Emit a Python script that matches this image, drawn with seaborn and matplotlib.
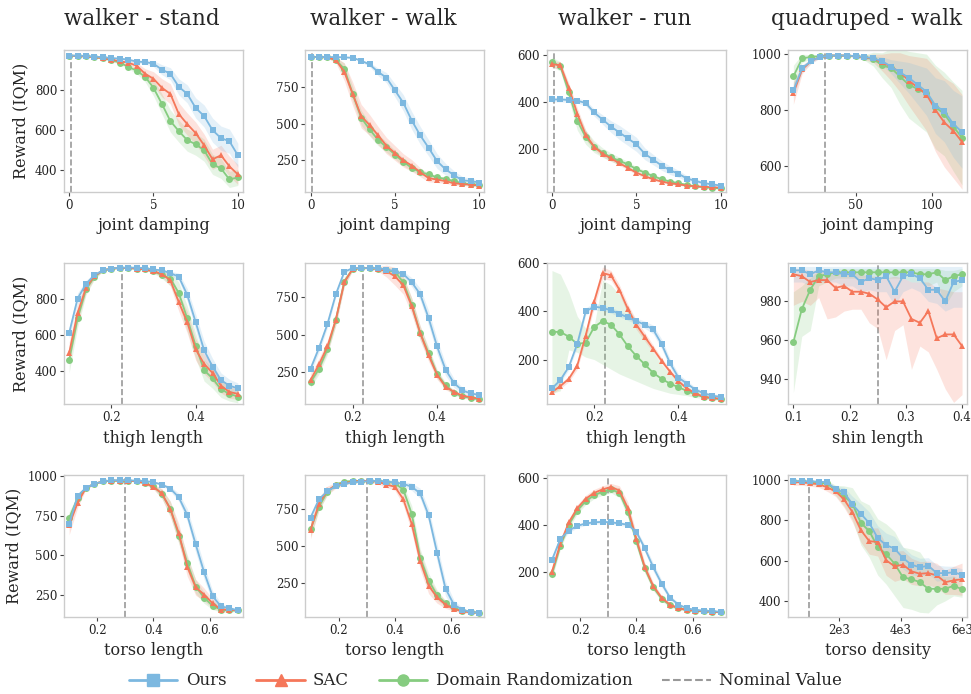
import numpy as np
import matplotlib
matplotlib.use("Agg")
import matplotlib.pyplot as plt
import matplotlib.ticker as mtick
from matplotlib.lines import Line2D
import seaborn as sns

##########
# X grids #
##########
damp_x = [0, 0.5, 1, 1.5, 2, 2.5, 3, 3.5, 4, 4.5, 5, 5.5, 6, 6.5, 7, 7.5, 8, 8.5, 9, 9.5, 10]
quad_damp_x = [9.0, 14.8, 20.7, 26.5, 32.4, 38.2, 44.1, 49.9, 55.7, 61.6, 67.4, 73.3, 79.1, 85.0,
               90.8, 96.6, 102.5, 108.3, 114.2, 120.0]
thigh_x = [0.10, 0.12, 0.14, 0.16, 0.18, 0.20, 0.22, 0.24, 0.26, 0.28, 0.30, 0.32, 0.34, 0.36,
           0.38, 0.40, 0.42, 0.44, 0.46, 0.48, 0.50]
shin_x = [0.100, 0.115, 0.130, 0.145, 0.160, 0.175, 0.190, 0.205, 0.220, 0.235, 0.250, 0.265,
          0.280, 0.295, 0.310, 0.325, 0.340, 0.355, 0.370, 0.385, 0.400]
torso_x = [0.10, 0.13, 0.16, 0.19, 0.22, 0.25, 0.28, 0.31, 0.34, 0.37, 0.40, 0.43, 0.46, 0.49,
           0.52, 0.55, 0.58, 0.61, 0.64, 0.67, 0.70]
density_x = [500, 775, 1050, 1325, 1600, 1875, 2150, 2425, 2700, 2975, 3250, 3525, 3800, 4075,
             4350, 4625, 4900, 5175, 5450, 5725, 6000]

# nominal values of each perturbed parameter
nominal_damp = 0.1
nominal_quad_damp = 30
nominal_thigh = 0.225
nominal_shin = 0.25
nominal_torso = 0.3
nominal_density = 1000

#########################
# Row 1: joint damping  #
#########################
stand_damp_ours = [970, 970, 968, 965, 962, 958, 955, 950, 940, 938, 930, 900, 880, 815, 780, 710, 670, 600, 560, 545, 475]
stand_damp_ours_sd = [3, 3, 3, 3, 3, 4, 5, 6, 8, 10, 15, 25, 30, 40, 45, 50, 55, 60, 60, 60, 60]
stand_damp_sac = [970, 968, 966, 962, 958, 950, 942, 935, 920, 880, 855, 810, 780, 680, 630, 585, 525, 455, 475, 420, 380]
stand_damp_sac_sd = [3, 3, 3, 4, 5, 6, 8, 10, 15, 25, 35, 45, 50, 55, 55, 55, 55, 50, 50, 50, 50]
stand_damp_dr = [970, 968, 966, 962, 958, 948, 935, 915, 895, 865, 810, 730, 645, 595, 550, 530, 500, 430, 410, 355, 365]
stand_damp_dr_sd = [3, 3, 3, 4, 5, 6, 8, 10, 15, 25, 40, 50, 55, 55, 55, 55, 55, 50, 50, 40, 40]

walk_damp_ours = [950, 950, 950, 950, 948, 945, 925, 900, 850, 810, 725, 640, 520, 420, 335, 245, 190, 150, 115, 110, 100]
walk_damp_ours_sd = [3, 3, 3, 3, 3, 4, 8, 15, 25, 35, 45, 55, 60, 60, 55, 50, 40, 30, 25, 20, 15]
walk_damp_sac = [950, 950, 948, 930, 850, 700, 550, 490, 420, 350, 300, 250, 215, 170, 130, 120, 110, 95, 90, 85, 80]
walk_damp_sac_sd = [3, 3, 5, 20, 60, 80, 80, 70, 60, 55, 50, 45, 40, 30, 25, 20, 15, 12, 10, 10, 10]
walk_damp_dr = [950, 950, 948, 930, 870, 700, 540, 460, 390, 340, 290, 240, 200, 170, 155, 135, 125, 110, 95, 90, 85]
walk_damp_dr_sd = [3, 3, 5, 15, 40, 50, 50, 45, 40, 35, 30, 25, 20, 18, 15, 12, 10, 10, 8, 8, 8]

run_damp_ours = [410, 410, 408, 405, 395, 355, 325, 295, 270, 245, 220, 180, 155, 130, 110, 95, 75, 65, 55, 50, 45]
run_damp_ours_sd = [10, 10, 10, 10, 12, 15, 20, 25, 30, 30, 30, 25, 22, 20, 18, 15, 12, 10, 8, 8, 6]
run_damp_sac = [560, 555, 460, 350, 260, 210, 180, 160, 140, 120, 100, 85, 72, 62, 55, 50, 45, 42, 40, 38, 36]
run_damp_sac_sd = [15, 15, 20, 25, 20, 15, 12, 10, 10, 8, 8, 7, 6, 5, 5, 4, 4, 4, 3, 3, 3]
run_damp_dr = [570, 550, 440, 320, 250, 210, 185, 165, 150, 135, 115, 100, 85, 72, 62, 55, 48, 42, 38, 35, 33]
run_damp_dr_sd = [20, 20, 30, 40, 30, 25, 20, 18, 15, 12, 10, 10, 8, 7, 6, 5, 5, 4, 4, 3, 3]

quad_damp_ours = [870, 950, 975, 990, 995, 995, 995, 993, 990, 985, 975, 955, 935, 915, 890, 865, 815, 795, 750, 720]
quad_damp_ours_sd = [25, 12, 8, 4, 3, 3, 3, 3, 5, 8, 15, 25, 40, 55, 70, 85, 100, 110, 120, 130]
quad_damp_sac = [860, 945, 975, 990, 995, 995, 995, 993, 988, 985, 970, 955, 935, 905, 880, 855, 800, 755, 725, 685]
quad_damp_sac_sd = [40, 15, 8, 4, 3, 3, 3, 4, 8, 15, 30, 50, 70, 90, 110, 130, 150, 160, 170, 170]
quad_damp_dr = [920, 985, 990, 993, 995, 995, 995, 992, 988, 982, 960, 950, 920, 890, 875, 860, 810, 785, 740, 700]
quad_damp_dr_sd = [40, 15, 8, 4, 3, 3, 3, 5, 10, 25, 45, 70, 100, 120, 130, 140, 150, 150, 160, 170]

######################
# Row 2: limb length #
######################
stand_thigh_ours = [610, 800, 880, 930, 955, 965, 970, 970, 970, 968, 960, 955, 940, 920, 820, 670, 515, 425, 350, 320, 305]
stand_thigh_ours_sd = [30, 30, 20, 10, 5, 3, 3, 3, 3, 3, 5, 8, 10, 20, 35, 45, 50, 45, 40, 35, 30]
stand_thigh_sac = [500, 720, 860, 925, 955, 965, 968, 968, 965, 960, 950, 935, 900, 780, 670, 520, 440, 390, 320, 285, 275]
stand_thigh_sac_sd = [60, 50, 30, 15, 5, 3, 3, 3, 3, 5, 8, 15, 30, 50, 60, 60, 55, 50, 40, 35, 30]
stand_thigh_dr = [460, 690, 850, 920, 955, 965, 968, 968, 965, 960, 950, 930, 910, 830, 690, 540, 405, 360, 300, 275, 260]
stand_thigh_dr_sd = [70, 50, 30, 15, 5, 3, 3, 3, 3, 5, 10, 20, 40, 60, 70, 70, 60, 55, 45, 40, 35]

walk_thigh_ours = [270, 410, 570, 770, 920, 945, 945, 945, 945, 935, 925, 905, 850, 770, 610, 420, 265, 175, 125, 105, 95]
walk_thigh_ours_sd = [30, 30, 25, 20, 15, 5, 3, 3, 3, 5, 10, 20, 30, 40, 50, 50, 40, 30, 20, 15, 12]
walk_thigh_sac = [195, 300, 420, 600, 850, 940, 945, 945, 940, 925, 890, 830, 690, 510, 360, 230, 150, 115, 90, 80, 70]
walk_thigh_sac_sd = [40, 40, 40, 40, 30, 10, 5, 5, 15, 40, 60, 60, 55, 50, 40, 30, 20, 15, 12, 10, 10]
walk_thigh_dr = [180, 270, 400, 600, 855, 940, 945, 945, 940, 930, 920, 850, 700, 510, 375, 235, 160, 110, 85, 75, 65]
walk_thigh_dr_sd = [35, 35, 35, 35, 30, 10, 5, 5, 10, 20, 30, 40, 45, 45, 40, 30, 20, 15, 12, 10, 10]

run_thigh_ours = [80, 115, 170, 265, 400, 420, 415, 405, 390, 375, 360, 345, 325, 265, 185, 125, 100, 75, 60, 50, 45]
run_thigh_ours_sd = [10, 10, 12, 15, 15, 15, 12, 12, 12, 12, 12, 15, 18, 20, 18, 15, 12, 10, 8, 8, 8]
run_thigh_sac = [65, 90, 120, 175, 300, 440, 560, 550, 490, 410, 345, 295, 245, 195, 150, 110, 80, 60, 45, 40, 38]
run_thigh_sac_sd = [8, 10, 12, 15, 20, 25, 25, 20, 20, 20, 20, 18, 15, 12, 10, 8, 7, 6, 5, 5, 5]
run_thigh_dr = [315, 315, 295, 265, 270, 335, 360, 345, 305, 255, 215, 180, 145, 120, 100, 85, 70, 55, 45, 40, 35]
run_thigh_dr_lo = [60, 70, 240, 230, 210, 200, 180, 160, 140, 125, 110, 95, 80, 70, 60, 55, 50, 42, 38, 33, 30]
run_thigh_dr_hi = [570, 555, 480, 380, 330, 340, 530, 510, 470, 420, 360, 290, 230, 180, 140, 110, 85, 70, 55, 45, 40]

quad_shin_ours = [996, 996, 994, 996, 995, 995, 994, 994, 990, 992, 991, 993, 985, 993, 994, 992, 986, 986, 980, 990, 991]
quad_shin_ours_lo = [990, 990, 988, 990, 990, 990, 988, 988, 985, 986, 985, 985, 978, 985, 987, 985, 980, 979, 975, 977, 977]
quad_shin_ours_hi = [998, 998, 998, 998, 998, 998, 998, 998, 998, 998, 998, 998, 998, 998, 998, 998, 998, 998, 998, 998, 998]
quad_shin_sac = [994, 993, 990, 991, 991, 987, 988, 985, 985, 984, 981, 977, 980, 980, 971, 969, 975, 961, 963, 963, 957]
quad_shin_sac_lo = [978, 980, 978, 982, 971, 972, 975, 976, 976, 969, 966, 950, 965, 968, 945, 957, 954, 945, 935, 928, 932]
quad_shin_sac_hi = [997, 997, 996, 996, 996, 995, 995, 995, 994, 993, 993, 992, 993, 992, 990, 990, 990, 987, 986, 985, 985]
quad_shin_dr = [959, 976, 986, 993, 994, 995, 995, 995, 995, 995, 995, 995, 995, 995, 995, 994, 994, 995, 991, 993, 994]
quad_shin_dr_lo = [933, 962, 965, 988, 990, 992, 992, 992, 992, 992, 992, 992, 992, 992, 990, 990, 988, 990, 978, 985, 988]
quad_shin_dr_hi = [985, 988, 992, 996, 997, 997, 997, 997, 997, 997, 997, 997, 997, 997, 997, 997, 997, 997, 996, 996, 997]

#########################
# Row 3: torso changes  #
#########################
stand_torso_ours = [695, 875, 925, 950, 965, 972, 972, 972, 970, 968, 960, 945, 920, 865, 755, 570, 395, 245, 180, 170, 155]
stand_torso_ours_sd = [15, 10, 5, 3, 3, 3, 3, 3, 3, 3, 5, 8, 15, 25, 40, 50, 45, 35, 20, 10, 8]
stand_torso_sac = [690, 830, 925, 950, 965, 970, 970, 970, 965, 955, 930, 890, 790, 640, 430, 300, 255, 200, 160, 160, 155]
stand_torso_sac_sd = [60, 30, 10, 5, 3, 3, 3, 3, 3, 8, 15, 30, 50, 60, 60, 50, 40, 30, 15, 10, 8]
stand_torso_dr = [735, 860, 925, 950, 965, 970, 970, 970, 965, 955, 935, 885, 795, 625, 455, 305, 235, 185, 160, 155, 155]
stand_torso_dr_sd = [40, 20, 10, 5, 3, 3, 3, 3, 3, 8, 15, 30, 45, 50, 50, 45, 35, 25, 15, 10, 8]

walk_torso_ours = [695, 820, 875, 910, 925, 935, 940, 945, 945, 940, 935, 925, 905, 860, 710, 455, 210, 100, 65, 50, 45]
walk_torso_ours_sd = [20, 15, 10, 8, 5, 5, 5, 5, 5, 5, 8, 15, 25, 35, 45, 60, 50, 30, 15, 8, 5]
walk_torso_sac = [610, 790, 880, 915, 930, 940, 945, 945, 940, 920, 905, 820, 650, 400, 230, 150, 100, 70, 55, 48, 45]
walk_torso_sac_sd = [60, 40, 30, 20, 15, 10, 10, 10, 15, 20, 25, 40, 55, 60, 55, 40, 25, 15, 10, 8, 5]
walk_torso_dr = [615, 770, 870, 920, 940, 945, 945, 945, 945, 940, 930, 885, 720, 420, 265, 165, 110, 75, 60, 50, 45]
walk_torso_dr_sd = [50, 30, 20, 15, 10, 8, 8, 8, 10, 15, 20, 35, 55, 60, 50, 35, 20, 12, 8, 6, 5]

run_torso_ours = [250, 340, 375, 395, 405, 410, 412, 410, 405, 400, 370, 300, 220, 150, 90, 60, 45, 38, 35, 33, 30]
run_torso_ours_sd = [15, 12, 10, 8, 8, 8, 8, 8, 8, 8, 10, 15, 18, 15, 10, 8, 5, 5, 4, 4, 4]
run_torso_sac = [200, 320, 410, 470, 510, 535, 550, 560, 545, 470, 340, 220, 140, 90, 60, 45, 38, 35, 33, 30, 28]
run_torso_sac_sd = [20, 15, 15, 15, 15, 15, 15, 15, 20, 25, 25, 20, 15, 10, 8, 6, 5, 4, 4, 3, 3]
run_torso_dr = [190, 310, 400, 460, 500, 525, 540, 550, 535, 455, 330, 215, 135, 85, 58, 45, 38, 34, 32, 30, 28]
run_torso_dr_sd = [20, 15, 15, 15, 15, 15, 15, 15, 20, 25, 25, 20, 15, 10, 8, 6, 5, 4, 4, 3, 3]

quad_density_ours = [995, 995, 995, 993, 990, 955, 940, 880, 833, 787, 713, 677, 660, 613, 580, 567, 575, 538, 538, 542, 530]
quad_density_ours_sd = [5, 5, 5, 5, 8, 15, 25, 40, 50, 55, 60, 60, 60, 55, 50, 45, 40, 40, 35, 30, 30]
quad_density_sac = [990, 990, 985, 980, 965, 945, 905, 842, 752, 697, 693, 602, 572, 580, 547, 535, 538, 527, 493, 502, 508]
quad_density_sac_sd = [15, 15, 15, 15, 20, 25, 40, 50, 60, 65, 70, 75, 75, 70, 65, 60, 60, 60, 60, 70, 80]
quad_density_dr = [995, 995, 990, 985, 985, 950, 922, 883, 788, 747, 668, 633, 585, 517, 508, 493, 460, 460, 460, 475, 458]
quad_density_dr_sd = [5, 5, 8, 10, 15, 25, 50, 80, 110, 130, 140, 150, 160, 150, 150, 150, 120, 80, 60, 50, 40]

################
# Plot styling #
################
method_names = ["Ours", "SAC", "Domain Randomization"]
method_colors = ["#7cb8e0", "#f5775a", "#86cc80"]
method_markers = ["s", "^", "o"]

sns.set_theme(style="white")
plt.rcParams["font.family"] = ["DejaVu Serif"]


def sd_band(mean, sd):
    mean = np.asarray(mean, dtype=float)
    sd = np.asarray(sd, dtype=float)
    return mean, mean - sd, mean + sd


def bounds(mean, lo, hi):
    return np.asarray(mean, float), np.asarray(lo, float), np.asarray(hi, float)


# (row, col, title, xlabel, x, [ours, sac, dr], nominal, xticks, yticks, ylim)
panels = [
    (0, 0, "walker - stand", "joint damping", damp_x,
     [sd_band(stand_damp_ours, stand_damp_ours_sd), sd_band(stand_damp_sac, stand_damp_sac_sd),
      sd_band(stand_damp_dr, stand_damp_dr_sd)],
     nominal_damp, [0, 5, 10], [400, 600, 800], (294, 998)),
    (0, 1, "walker - walk", "joint damping", damp_x,
     [sd_band(walk_damp_ours, walk_damp_ours_sd), sd_band(walk_damp_sac, walk_damp_sac_sd),
      sd_band(walk_damp_dr, walk_damp_dr_sd)],
     nominal_damp, [0, 5, 10], [250, 500, 750], (38, 998)),
    (0, 2, "walker - run", "joint damping", damp_x,
     [sd_band(run_damp_ours, run_damp_ours_sd), sd_band(run_damp_sac, run_damp_sac_sd),
      sd_band(run_damp_dr, run_damp_dr_sd)],
     nominal_damp, [0, 5, 10], [200, 400, 600], (19, 620)),
    (0, 3, "quadruped - walk", "joint damping", quad_damp_x,
     [sd_band(quad_damp_ours, quad_damp_ours_sd), sd_band(quad_damp_sac, quad_damp_sac_sd),
      sd_band(quad_damp_dr, quad_damp_dr_sd)],
     nominal_quad_damp, [50, 100], [600, 800, 1000], (506, 1015)),
    (1, 0, None, "thigh length", thigh_x,
     [sd_band(stand_thigh_ours, stand_thigh_ours_sd), sd_band(stand_thigh_sac, stand_thigh_sac_sd),
      sd_band(stand_thigh_dr, stand_thigh_dr_sd)],
     nominal_thigh, [0.2, 0.4], [400, 600, 800], (217, 998)),
    (1, 1, None, "thigh length", thigh_x,
     [sd_band(walk_thigh_ours, walk_thigh_ours_sd), sd_band(walk_thigh_sac, walk_thigh_sac_sd),
      sd_band(walk_thigh_dr, walk_thigh_dr_sd)],
     nominal_thigh, [0.2, 0.4], [250, 500, 750], (32, 982)),
    (1, 2, None, "thigh length", thigh_x,
     [sd_band(run_thigh_ours, run_thigh_ours_sd), sd_band(run_thigh_sac, run_thigh_sac_sd),
      bounds(run_thigh_dr, run_thigh_dr_lo, run_thigh_dr_hi)],
     nominal_thigh, [0.2, 0.4], [200, 400, 600], (14, 603)),
    (1, 3, None, "shin length", shin_x,
     [bounds(quad_shin_ours, quad_shin_ours_lo, quad_shin_ours_hi),
      bounds(quad_shin_sac, quad_shin_sac_lo, quad_shin_sac_hi),
      bounds(quad_shin_dr, quad_shin_dr_lo, quad_shin_dr_hi)],
     nominal_shin, [0.1, 0.2, 0.3, 0.4], [940, 960, 980], (927, 1000)),
    (2, 0, None, "torso length", torso_x,
     [sd_band(stand_torso_ours, stand_torso_ours_sd), sd_band(stand_torso_sac, stand_torso_sac_sd),
      sd_band(stand_torso_dr, stand_torso_dr_sd)],
     nominal_torso, [0.2, 0.4, 0.6], [250, 500, 750, 1000], (114, 1004)),
    (2, 1, None, "torso length", torso_x,
     [sd_band(walk_torso_ours, walk_torso_ours_sd), sd_band(walk_torso_sac, walk_torso_sac_sd),
      sd_band(walk_torso_dr, walk_torso_dr_sd)],
     nominal_torso, [0.2, 0.4, 0.6], [250, 500, 750], (16, 984)),
    (2, 2, None, "torso length", torso_x,
     [sd_band(run_torso_ours, run_torso_ours_sd), sd_band(run_torso_sac, run_torso_sac_sd),
      sd_band(run_torso_dr, run_torso_dr_sd)],
     nominal_torso, [0.2, 0.4, 0.6], [200, 400, 600], (8, 610)),
    (2, 3, None, "torso density", density_x,
     [sd_band(quad_density_ours, quad_density_ours_sd), sd_band(quad_density_sac, quad_density_sac_sd),
      sd_band(quad_density_dr, quad_density_dr_sd)],
     nominal_density, [2000, 4000, 6000], [400, 600, 800, 1000], (320, 1025)),
]

fig, axes = plt.subplots(3, 4, figsize=(9.71, 6.94), dpi=100)
fig.subplots_adjust(left=0.066, right=0.996, top=0.928, bottom=0.111, wspace=0.35, hspace=0.5)

for row, col, title, xlabel, x, series, nominal, xticks, yticks, ylim in panels:
    ax = axes[row, col]
    x = np.asarray(x, dtype=float)

    # shaded bands first, then lines with markers (Ours ends up on top)
    for (mean, lo, hi), color in list(zip(series, method_colors))[::-1]:
        ax.fill_between(x, lo, hi, color=color, alpha=0.2, linewidth=0)
    for (mean, lo, hi), color, marker in list(zip(series, method_colors, method_markers))[::-1]:
        sns.lineplot(x=x, y=mean, color=color, marker=marker, markersize=5, mec=color, mew=0,
                     linewidth=1.3, ax=ax)

    ax.axvline(nominal, color="#999999", linestyle="--", linewidth=1.2, zorder=0.5)

    ax.margins(x=0.03)
    ax.set_ylim(*ylim)
    ax.set_xticks(xticks)
    ax.set_yticks(yticks)
    if x.max() > 1000:
        ax.xaxis.set_major_formatter(mtick.FuncFormatter(lambda v, p: f"{int(v / 1000)}e3"))

    ax.tick_params(bottom=True, left=True, length=3, width=0.8, color="#444444",
                   labelsize=8.5, labelcolor="#222222", pad=2)
    for spine in ax.spines.values():
        spine.set_color("#cccccc")
        spine.set_linewidth(1.0)

    ax.set_xlabel(xlabel, fontsize=11.5, labelpad=4)
    ax.set_ylabel("Reward (IQM)" if col == 0 else "", fontsize=11.5)
    if title:
        # titles sit a little left of the axes centre, as in the source figure
        ax.set_title(title, fontsize=15.5, pad=18, x=0.435)

# shared legend at the bottom
handles = [Line2D([0], [0], color=c, marker=m, markersize=8, linewidth=2, mec=c)
           for c, m in zip(method_colors, method_markers)]
handles.append(Line2D([0], [0], color="#999999", linestyle="--", linewidth=1.5))
fig.legend(handles, method_names + ["Nominal Value"], loc="lower center", bbox_to_anchor=(0.5, -0.015),
           ncol=4, frameon=False, columnspacing=1.8, handlelength=2.9, handletextpad=0.5,
           prop={"family": "DejaVu Serif", "size": 12})

plt.savefig("out.png", dpi=100)
